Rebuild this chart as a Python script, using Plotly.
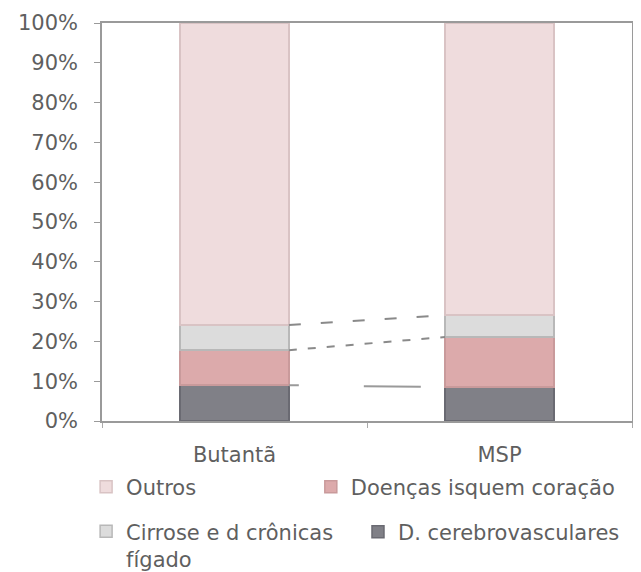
import plotly.graph_objects as go

# ---- data (share of deaths, %) ----
categories = ["Butantã", "MSP"]
cerebrovasculares = [9.0, 8.5]
isquem_coracao = [8.8, 12.6]
cirrose = [6.3, 5.5]
outros = [75.9, 73.4]

series_names = ["D. cerebrovasculares", "Doenças isquem coração",
                "Cirrose e d crônicas<br>fígado", "Outros"]
series_values = [cerebrovasculares, isquem_coracao, cirrose, outros]
series_colors = ["#808087", "#dcaaab", "#dcdcdc", "#efdcdd"]
series_lines = ["#6a6a72", "#c99a9b", "#b8b8b8", "#d9c3c4"]

y_ticks = list(range(0, 101, 10))
y_ticklabels = [f"{v}%" for v in y_ticks]

FONT = "DejaVu Sans"
TXT = "#5f5f5f"
BAR_W = 0.41
x_pos = list(range(len(categories)))

fig = go.Figure()
legend_ids = ["legend4", "legend2", "legend3", "legend"]
for name, vals, col, lc, lg in zip(series_names, series_values, series_colors,
                                   series_lines, legend_ids):
    fig.add_trace(go.Bar(x=x_pos, y=vals, name=name, width=BAR_W,
                         marker=dict(color=col, line=dict(color=lc, width=1.5)),
                         legend=lg))

# series lines connecting segment tops
cum = []
run = [0.0, 0.0]
for vals in series_values[:-1]:
    run = [run[i] + vals[i] for i in range(2)]
    cum.append(list(run))

line_x = [x_pos[0] + BAR_W / 2, x_pos[1] - BAR_W / 2]
dash_styles = ["10px,65px,57px,200px", "8px,11px", "12px,20px"]
line_cols = ["#9a9a9a", "#8a8a8a", "#8a8a8a"]
for c, d, lc in zip(cum, dash_styles, line_cols):
    fig.add_trace(go.Scatter(x=line_x, y=c, mode="lines", showlegend=False,
                             hoverinfo="skip",
                             line=dict(color=lc, width=2, dash=d)))

leg_common = dict(orientation="h", xanchor="left", yanchor="middle",
                  bgcolor="rgba(0,0,0,0)", valign="top",
                  font=dict(family=FONT, size=21, color=TXT))
fig.update_layout(
    barmode="stack",
    width=633, height=564,
    margin=dict(l=94, r=9, t=15, b=151, autoexpand=False),
    paper_bgcolor="white", plot_bgcolor="white",
    showlegend=True,
    legend=dict(x=-0.030, y=-0.166, **leg_common),
    legend2=dict(x=0.394, y=-0.166, **leg_common),
    legend3=dict(x=-0.030, y=-0.312, **leg_common),
    legend4=dict(x=0.483, y=-0.279, **leg_common),
    xaxis=dict(range=[-0.5, 1.5], tickvals=x_pos, ticktext=categories,
               ticks="", showgrid=False, zeroline=False,
               showline=True, linecolor="#9a9a9a", linewidth=1.5, mirror=True,
               ticklabelstandoff=14,
               minor=dict(tickvals=[-0.5, 0.5, 1.5], ticks="outside", ticklen=5,
                          tickcolor="#aaaaaa"),
               tickfont=dict(family=FONT, size=21, color=TXT)),
    yaxis=dict(range=[0, 100], tickvals=y_ticks, ticktext=y_ticklabels,
               ticks="outside", ticklen=6, tickcolor="#9a9a9a",
               showgrid=False, zeroline=False,
               showline=True, linecolor="#9a9a9a", linewidth=1.5, mirror=True,
               ticklabelstandoff=12,
               tickfont=dict(family=FONT, size=21, color=TXT)),
)

fig.write_html("out.html")
